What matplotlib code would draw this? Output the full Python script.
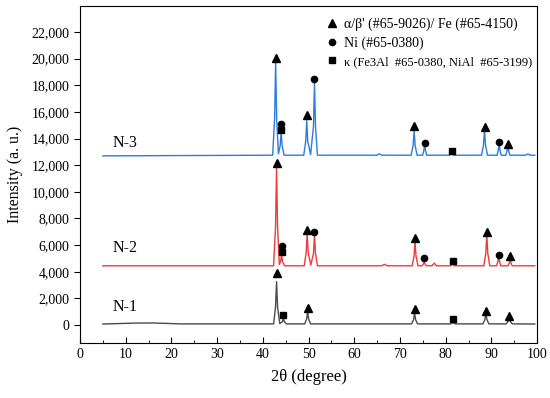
import matplotlib
matplotlib.use("Agg")
import matplotlib.pyplot as plt
from matplotlib.lines import Line2D
from matplotlib.ticker import MultipleLocator, StrMethodFormatter

plt.rcParams['font.family'] = ['Liberation Serif', 'DejaVu Serif']

# N-1 (black) pattern
n1_x = [5, 12, 16, 22,
        42.35, 42.78, 43.0, 43.22, 43.7, 44.28, 44.5, 44.72, 45.15,
        49.15, 49.58, 49.8, 50.02, 50.45,
        72.55, 72.98, 73.2, 73.42, 73.85,
        81.1, 81.6, 82.1,
        88.15, 88.58, 88.8, 89.02, 89.45,
        93.25, 93.68, 93.9, 94.12, 94.55, 99.5]
n1_y = [80, 150, 160, 90,
        90, 1360, 3260, 1360, 110, 250, 500, 250, 90,
        90, 450, 1000, 450, 90,
        90, 410, 880, 410, 90,
        90, 180, 90,
        90, 410, 880, 410, 90,
        90, 300, 620, 300, 90, 80]

# N-2 (red) pattern
n2_x = [5, 42.35, 42.78, 43.0, 43.22, 43.6, 43.88, 44.1, 44.32, 44.75,
        49.05, 49.48, 49.7, 49.92, 50.5, 51.08, 51.3, 51.52, 51.95,
        66.0, 66.6, 67.2,
        72.65, 73.08, 73.3, 73.52, 73.95,
        74.85, 75.1, 75.3, 75.5, 75.75,
        77.0, 77.5, 78.0,
        81.1, 81.5, 81.9,
        88.35, 88.78, 89.0, 89.22, 89.65,
        91.15, 91.38, 91.6, 91.82, 92.05,
        93.65, 93.88, 94.1, 94.32, 94.55, 99.5]
n2_y = [4450, 4450, 7380, 11780, 7380, 4550, 4770, 5260, 4770, 4450,
        4450, 5430, 6900, 5430, 4500, 5380, 6770, 5380, 4450,
        4450, 4560, 4450,
        4450, 5170, 6260, 5170, 4450,
        4450, 4570, 4760, 4570, 4450,
        4450, 4650, 4450,
        4450, 4600, 4450,
        4450, 5380, 6770, 5380, 4450,
        4450, 4730, 5140, 4730, 4450,
        4450, 4630, 4890, 4630, 4450, 4450]

# N-3 (blue) pattern
n3_x = [5, 42.15, 42.58, 42.8, 43.02, 43.4, 43.78, 44.0, 44.22, 44.65,
        48.95, 49.38, 49.6, 49.82, 50.45, 51.08, 51.3, 51.52, 51.95,
        64.9, 65.5, 66.1,
        72.45, 72.88, 73.1, 73.32, 73.75,
        74.95, 75.18, 75.4, 75.62, 75.85,
        80.9, 81.3, 81.7,
        87.85, 88.28, 88.5, 88.72, 89.15,
        91.25, 91.48, 91.7, 91.92, 92.15,
        93.15, 93.38, 93.6, 93.82, 94.05,
        97.5, 98.0, 98.5, 99.5]
n3_y = [12700, 12750, 15550, 19750, 15550, 12850, 13450, 14490, 13450, 12750,
        12750, 13790, 15340, 13790, 12800, 14920, 18170, 14920, 12750,
        12750, 12850, 12750,
        12750, 13480, 14580, 13480, 12750,
        12750, 13050, 13500, 13050, 12750,
        12750, 12900, 12750,
        12750, 13510, 14650, 13510, 12750,
        12750, 13080, 13580, 13080, 12750,
        12750, 13030, 13450, 13030, 12750,
        12750, 12850, 12750, 12750]

# phase markers (x, y)
tri_x = [42.8, 49.6, 73.1, 88.5, 93.6, 43.0, 49.7, 73.3, 89.0, 94.1,
         43.0, 49.8, 73.2, 88.8, 93.9]
tri_y = [20080, 15740, 14960, 14900, 13610, 12160, 7140, 6520, 7020, 5210,
         3890, 1300, 1200, 1080, 700]
circ_x = [44.0, 51.3, 75.4, 91.7, 44.1, 51.3, 75.3, 91.6]
circ_y = [15100, 18480, 13660, 13740, 5960, 7020, 5010, 5260]
sq_x = [44.0, 81.3, 44.1, 81.5, 44.5, 81.6]
sq_y = [14660, 13100, 5510, 4810, 750, 430]

sample_names = ['N-1', 'N-2', 'N-3']
name_y = [1350, 5780, 13650]
legend_labels = ["α/β' (#65-9026)/ Fe (#65-4150)",
                 "Ni (#65-0380)",
                 "κ (Fe3Al  #65-0380, NiAl  #65-3199)"]

fig = plt.figure(figsize=(5.5, 3.98), dpi=100)
ax = fig.add_axes([0.1455, 0.138, 0.831, 0.847])

ax.plot(n1_x, n1_y, color='#4a4a4a', lw=1.0)
ax.plot(n2_x, n2_y, color='#f0393c', lw=1.0)
ax.plot(n3_x, n3_y, color='#2b7be0', lw=1.0)

ax.plot(tri_x, tri_y, ls='none', marker='^', ms=5.5, color='black')
ax.plot(circ_x, circ_y, ls='none', marker='o', ms=4.5, color='black')
ax.plot(sq_x, sq_y, ls='none', marker='s', ms=3.8, color='black')

for name, yv in zip(sample_names, name_y):
    ax.text(7.2, yv, name, fontsize=11.5, va='center', ha='left')

handles = [Line2D([], [], ls='none', marker='^', ms=5.5, color='black'),
           Line2D([], [], ls='none', marker='o', ms=4.5, color='black'),
           Line2D([], [], ls='none', marker='s', ms=3.8, color='black')]
leg = ax.legend(handles, legend_labels, loc='upper left',
                bbox_to_anchor=(0.514, 1.0), frameon=False, fontsize=10,
                handlelength=0.8, handletextpad=0.5, labelspacing=0.4,
                borderpad=0.3)
leg.get_texts()[2].set_fontsize(9)

ax.set_xlim(0, 100)
ax.set_ylim(-1350, 23950)
ax.xaxis.set_major_locator(MultipleLocator(10))
ax.xaxis.set_minor_locator(MultipleLocator(5))
ax.set_yticks(range(0, 22001, 2000))
ax.yaxis.set_major_formatter(StrMethodFormatter('{x:,.0f}'))
ax.tick_params(axis='x', which='major', direction='in', length=4, labelsize=10)
ax.tick_params(axis='x', which='minor', direction='in', length=2)
ax.tick_params(axis='y', direction='out', length=4, labelsize=10)

ax.set_xlabel('2θ (degree)', fontsize=12, labelpad=6)
ax.set_ylabel('Intensity (a. u.)', fontsize=11.5, labelpad=6)

fig.savefig('out.png', dpi=100)
